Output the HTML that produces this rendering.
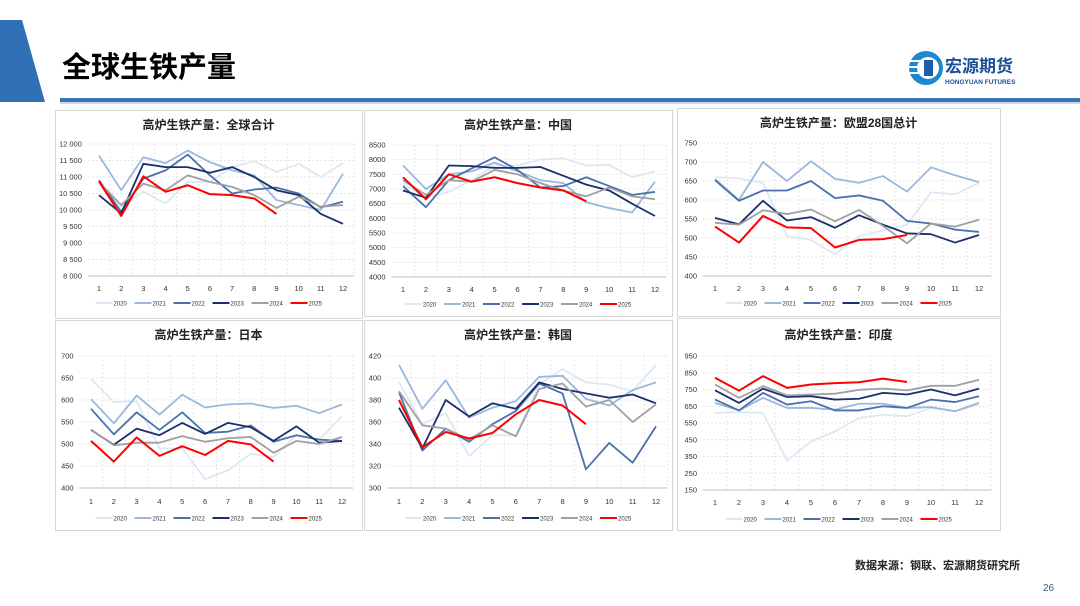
<!DOCTYPE html>
<html><head><meta charset="utf-8">
<style>
html,body{margin:0;padding:0;background:#fff;}
body{width:1080px;height:606px;overflow:hidden;position:relative;font-family:"Liberation Sans","Noto Sans CJK SC",sans-serif;}
svg{position:absolute;left:0;top:0;}
</style></head>
<body>
<svg id="page" width="1080" height="606" viewBox="0 0 1080 606">
  <polygon points="0,20 22,20 45,102 0,102" fill="#2f6fb5"/>
  <text x="62" y="77" font-size="29" font-weight="bold" fill="#000" font-family="'Noto Sans CJK SC',sans-serif">全球生铁产量</text>
  <rect x="60" y="98" width="1020" height="4" fill="#3a74b4"/>
  <rect x="60" y="102" width="1020" height="2" fill="#c9d9ec"/>
  <g>
    <circle cx="926" cy="68" r="17" fill="#1f86d0"/>
    <circle cx="928" cy="68" r="11" fill="#fff"/>
    <rect x="908" y="60" width="18" height="2" fill="#fff"/><rect x="908" y="66" width="18" height="2" fill="#fff"/><rect x="908" y="72" width="18" height="2" fill="#fff"/>
    <rect x="924" y="60" width="9" height="16" fill="#1f5fa8"/>
    <text x="945" y="72" font-size="17" font-weight="bold" fill="#1a4f9c" font-family="'Noto Sans CJK SC',sans-serif">宏源期货</text>
    <text x="945" y="84" font-size="6.5" font-weight="bold" fill="#1a4f9c">HONGYUAN FUTURES</text>
  </g>
  <text x="855" y="569" font-size="11" font-weight="bold" fill="#222" font-family="'Noto Sans CJK SC',sans-serif">数据来源：钢联、宏源期货研究所</text>
  <text x="1043" y="591" font-size="10" fill="#3a5a80">26</text>
</svg>
<script>
// ---- data ----
const months = ['1','2','3','4','5','6','7','8','9','10','11','12'];
const years = ['2020','2021','2022','2023','2024','2025'];
const yearColors = ['#dde8f5','#9ab8dc','#4a72a8','#1a2f6b','#a0a0a0','#ff0000'];

const globalTicks = ['8 000','8 500','9 000','9 500','10 000','10 500','11 000','11 500','12 000'];
const global2020 = [10850,10100,10550,10200,10850,10850,11300,11480,11150,11400,11000,11420];
const global2021 = [11650,10600,11600,11420,11800,11450,11200,11050,10300,10150,10000,11100];
const global2022 = [10900,9950,10950,11200,11680,11050,10500,10620,10680,10500,10080,10250];
const global2023 = [10450,9900,11400,11300,11300,11130,11300,11000,10600,10450,9880,9580];
const global2024 = [10850,10150,10800,10600,11050,10850,10700,10450,10060,10400,10100,10150];
const global2025 = [10870,9820,11020,10550,10750,10480,10450,10350,9880];

const chinaTicks = ['4000','4500','5000','5500','6000','6500','7000','7500','8000','8500'];
const china2020 = [7200,6700,6900,7300,7800,7800,8000,8050,7800,7820,7400,7600];
const china2021 = [7800,7000,7500,7600,7900,7600,7300,7200,6550,6350,6200,7250];
const china2022 = [7100,6380,7300,7700,8080,7650,7050,7100,7400,7100,6800,6900];
const china2023 = [6950,6700,7800,7780,7720,7720,7750,7450,7150,6950,6500,6080];
const china2024 = [7300,6800,7300,7250,7650,7500,7200,6950,6750,7050,6750,6650];
const china2025 = [7400,6650,7500,7250,7400,7200,7050,6950,6580];

const euTicks = ['400','450','500','550','600','650','700','750'];
const eu2020 = [660,657,645,505,495,457,505,520,535,620,615,645];
const eu2021 = [655,600,700,650,702,656,645,663,622,686,665,647];
const eu2022 = [652,598,625,625,650,605,612,598,545,538,522,516];
const eu2023 = [553,536,598,546,555,527,560,535,512,510,488,508];
const eu2024 = [540,535,573,563,575,544,574,532,486,538,530,548];
const eu2025 = [530,488,558,528,526,475,495,497,508];

const japanTicks = ['400','450','500','550','600','650','700'];
const japan2020 = [648,595,597,490,490,420,440,478,470,520,510,563];
const japan2021 = [602,547,610,567,612,583,590,592,582,587,570,590];
const japan2022 = [580,522,572,532,572,525,528,542,505,520,510,507];
const japan2023 = [532,498,535,520,548,523,548,538,507,540,503,507];
const japan2024 = [533,497,503,503,518,505,513,516,480,507,500,516];
const japan2025 = [507,460,515,473,495,475,507,499,460];

const koreaTicks = ['300','320','340','360','380','400','420'];
const korea2020 = [396,358,368,329,348,348,394,408,396,394,388,412];
const korea2021 = [412,372,398,364,373,379,401,402,381,375,389,396];
const korea2022 = [387,334,354,342,358,370,395,386,317,341,323,356];
const korea2023 = [373,336,380,365,377,372,396,390,386,382,385,377];
const korea2024 = [388,357,354,344,357,347,390,395,374,380,360,376];
const korea2025 = [380,337,351,345,350,367,380,375,358];

const indiaTicks = ['150','250','350','450','550','650','750','850','950'];
const india2020 = [610,615,610,325,440,500,580,600,590,640,620,660];
const india2021 = [670,625,700,640,640,630,665,665,640,645,620,670];
const india2022 = [690,625,730,660,680,625,625,650,640,690,675,710];
const india2023 = [745,670,755,705,710,690,695,730,720,750,715,755];
const india2024 = [780,700,770,715,720,725,748,755,745,772,772,808];
const india2025 = [820,743,830,760,780,788,793,815,795];

// ---- layout ----
const charts = [
 {name:'global',title:'高炉生铁产量：全球合计',box:[55,110,307,208],x1:99,x12:343,yt:144,yb:276,min:8000,max:12000,ticks:globalTicks,titleY:129,labY:291,legY:305,series:[global2020,global2021,global2022,global2023,global2024,global2025]},
 {name:'china',title:'高炉生铁产量：中国',box:[364,110,308,206],x1:403,x12:655,yt:145,yb:277,min:4000,max:8500,ticks:chinaTicks,titleY:129,labY:292,legY:306,series:[china2020,china2021,china2022,china2023,china2024,china2025]},
 {name:'eu28',title:'高炉生铁产量：欧盟28国总计',box:[677,108,323,208],x1:715,x12:979,yt:143,yb:276,min:400,max:750,ticks:euTicks,titleY:127,labY:291,legY:305,series:[eu2020,eu2021,eu2022,eu2023,eu2024,eu2025]},
 {name:'japan',title:'高炉生铁产量：日本',box:[55,320,307,210],x1:91,x12:342,yt:356,yb:488,min:400,max:700,ticks:japanTicks,titleY:339,labY:504,legY:520,series:[japan2020,japan2021,japan2022,japan2023,japan2024,japan2025]},
 {name:'korea',title:'高炉生铁产量：韩国',box:[364,320,308,210],x1:399,x12:656,yt:356,yb:488,min:300,max:420,ticks:koreaTicks,titleY:339,labY:504,legY:520,series:[korea2020,korea2021,korea2022,korea2023,korea2024,korea2025]},
 {name:'india',title:'高炉生铁产量：印度',box:[677,318,323,212],x1:715,x12:979,yt:356,yb:490,min:150,max:950,ticks:indiaTicks,titleY:339,labY:505,legY:521,series:[india2020,india2021,india2022,india2023,india2024,india2025]}
];

const NS='http://www.w3.org/2000/svg';
const svg=document.getElementById('page');
function mk(tag,attrs,parent){const e=document.createElementNS(NS,tag);for(const k in attrs)e.setAttribute(k,attrs[k]);parent.appendChild(e);return e;}

charts.forEach(c=>{
  const g=mk('g',{},svg);
  
  
  const b=mk('rect',{x:c.box[0]+0.5,y:c.box[1]+0.5,width:c.box[2],height:c.box[3],fill:'#fff',stroke:'#d6d6d6','stroke-width':1},g);
  
  
  const step=(c.x12-c.x1)/11;
  const left=c.x1-step/2, right=c.x12+step/2;
  const xs=i=>c.x1+i*step;
  const ys=v=>c.yb-(v-c.min)/(c.max-c.min)*(c.yb-c.yt);
  const t=mk('text',{x:(c.box[0]+c.box[0]+c.box[2])/2,y:c.titleY,'font-size':12,'font-weight':'bold','text-anchor':'middle',fill:'#222','font-family':"'Liberation Sans','Noto Sans CJK SC',sans-serif"},g);
  t.textContent=c.title;
  
  
  // horizontal grid & y ticks
  const n=c.ticks.length;
  c.ticks.forEach((lab,i)=>{
    const y=c.yb-i*(c.yb-c.yt)/(n-1);
    if(i>0) mk('line',{x1:left,x2:right,y1:y,y2:y,stroke:'#dcdcdc','stroke-dasharray':'2,2','stroke-width':0.7},g);
    const tx=mk('text',{x:left-6,y:y+2.5,'font-size':7.5,'text-anchor':'end',fill:'#333'},g);
    tx.textContent=lab;
    
    
  });
  // vertical grid
  for(let i=1;i<=12;i++){const x=left+i*step;mk('line',{x1:x,x2:x,y1:c.yt,y2:c.yb,stroke:'#dcdcdc','stroke-dasharray':'2,2','stroke-width':0.7},g);}
  mk('line',{x1:left,x2:right,y1:c.yb,y2:c.yb,stroke:'#bfbfbf','stroke-width':1},g);
  months.forEach((m,i)=>{
    const tx=mk('text',{x:xs(i),y:c.labY,'font-size':7.5,'text-anchor':'middle',fill:'#333'},g);
    tx.textContent=m;
    
    
  });
  c.series.forEach((s,k)=>{
    const p=mk('polyline',{points:s.map((v,i)=>xs(i)+','+ys(v)).join(' '),fill:'none',stroke:yearColors[k],'stroke-width':k===5?2:1.8,'stroke-linejoin':'round'},g);
    
    
  });
  // legend
  const legW=39, lx0=(c.box[0]+c.box[2]/2)-legW*3+4;
  years.forEach((yr,k)=>{
    const lg=mk('g',{},g);
    
    
    const x=lx0+k*legW;
    mk('line',{x1:x,x2:x+17,y1:c.legY-2,y2:c.legY-2,stroke:yearColors[k],'stroke-width':2},lg);
    const tx=mk('text',{x:x+18,y:c.legY+0.5,'font-size':6,fill:'#333'},lg);
    tx.textContent=yr;
  });
});
</script>
</body></html>
